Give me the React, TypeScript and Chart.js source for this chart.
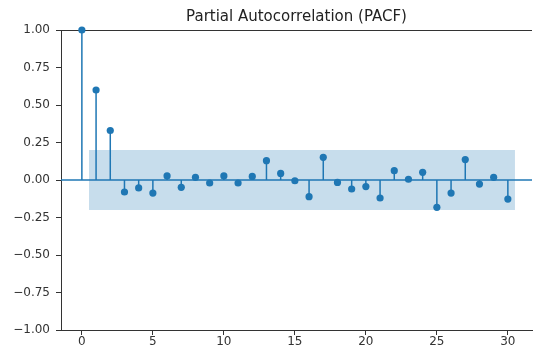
import React, { useEffect, useRef } from "react";
import { Chart, registerables } from "chart.js";

Chart.register(...registerables);

const lags = [0, 1, 2, 3, 4, 5, 6, 7, 8, 9, 10, 11, 12, 13, 14, 15, 16, 17, 18, 19, 20, 21, 22, 23, 24, 25, 26, 27, 28, 29, 30];
const pacfValues = [
  1.0, 0.6, 0.33, -0.08, -0.053, -0.087, 0.027, -0.049, 0.018, -0.02, 0.027,
  -0.02, 0.024, 0.129, 0.044, -0.005, -0.111, 0.151, -0.016, -0.06, -0.044,
  -0.12, 0.062, 0.005, 0.051, -0.182, -0.087, 0.136, -0.027, 0.018, -0.127,
];
const bandLags = [0.5, 30.5];
const bandUpper = [0.2, 0.2];
const bandLower = [-0.2, -0.2];
const xTicks = [0, 5, 10, 15, 20, 25, 30];
const yTicks = [-1, -0.75, -0.5, -0.25, 0, 0.25, 0.5, 0.75, 1];
const xRange = [-1.47, 31.7];
const yRange = [-1, 1];
const titleText = "Partial Autocorrelation (PACF)";

const BLUE = "#1f77b4";
const AXIS = "#333333";
const FONT = "DejaVu Sans";

const fmtY = (v: number) => {
  const s = Math.abs(v).toFixed(2);
  return v < 0 ? "\u2212" + s : s;
};

const spinePlugin = {
  id: "topSpine",
  beforeDatasetsDraw(chart: any) {
    const { ctx, chartArea } = chart;
    ctx.save();
    ctx.strokeStyle = AXIS;
    ctx.lineWidth = 1;
    ctx.beginPath();
    ctx.moveTo(chartArea.left, chartArea.top + 0.5);
    ctx.lineTo(chartArea.right, chartArea.top + 0.5);
    ctx.stroke();
    ctx.restore();
  },
};

export default function App() {
  const ref = useRef<HTMLCanvasElement>(null);

  useEffect(() => {
    if (!ref.current) return;
    const stemData: any[] = [];
    lags.forEach((l, i) => {
      stemData.push({ x: l, y: 0 });
      stemData.push({ x: l, y: pacfValues[i] });
      stemData.push({ x: l, y: null });
    });
    const chart = new Chart(ref.current, {
      type: "scatter",
      data: {
        datasets: [
          {
            type: "scatter",
            data: lags.map((l, i) => ({ x: l, y: pacfValues[i] })),
            pointRadius: 3.6,
            pointBackgroundColor: BLUE,
            pointBorderWidth: 0,
            clip: false,
          } as any,
          {
            type: "line",
            data: stemData,
            borderColor: BLUE,
            borderWidth: 1.5,
            pointRadius: 0,
            spanGaps: false,
            fill: false,
          } as any,
          {
            type: "line",
            data: [
              { x: xRange[0], y: 0 },
              { x: xRange[1], y: 0 },
            ],
            borderColor: BLUE,
            borderWidth: 1.5,
            pointRadius: 0,
            fill: false,
          } as any,
          {
            type: "line",
            data: bandLags.map((x, i) => ({ x, y: bandUpper[i] })),
            borderWidth: 0,
            borderColor: "rgba(0,0,0,0)",
            backgroundColor: "rgba(31,119,180,0.25)",
            pointRadius: 0,
            fill: "+1",
          } as any,
          {
            type: "line",
            data: bandLags.map((x, i) => ({ x, y: bandLower[i] })),
            borderWidth: 0,
            borderColor: "rgba(0,0,0,0)",
            pointRadius: 0,
            fill: false,
          } as any,
        ],
      },
      options: {
        animation: false,
        responsive: false,
        events: [],
        layout: { padding: 0 },
        plugins: {
          legend: { display: false },
          tooltip: { enabled: false },
          title: {
            display: true,
            text: titleText,
            fullSize: false,
            color: "#222",
            font: { family: FONT, size: 15, weight: "normal" },
            padding: { top: 8, bottom: 4 },
          },
        },
        scales: {
          x: {
            type: "linear",
            min: xRange[0],
            max: xRange[1],
            offset: false,
            afterBuildTicks: (s: any) => {
              s.ticks = xTicks.map((v) => ({ value: v }));
            },
            afterFit: (s: any) => {
              s.height = 21;
            },
            grid: {
              drawOnChartArea: false,
              drawTicks: true,
              tickLength: 5,
              tickColor: AXIS,
              offset: false,
            },
            border: { display: true, color: AXIS, width: 1 },
            ticks: {
              color: AXIS,
              font: { family: FONT, size: 12 },
              padding: 0,
              maxRotation: 0,
              autoSkip: false,
              callback: (v: any) => String(v),
            },
          },
          y: {
            type: "linear",
            min: yRange[0],
            max: yRange[1],
            afterBuildTicks: (s: any) => {
              s.ticks = yTicks.map((v) => ({ value: v }));
            },
            afterFit: (s: any) => {
              s.width = 61;
            },
            grid: {
              drawOnChartArea: false,
              drawTicks: true,
              tickLength: 5,
              tickColor: AXIS,
            },
            border: { display: true, color: AXIS, width: 1 },
            ticks: {
              color: AXIS,
              font: { family: FONT, size: 12 },
              padding: 6,
              autoSkip: false,
              callback: (v: any) => fmtY(Number(v)),
            },
          },
        },
      } as any,
      plugins: [spinePlugin],
    });
    return () => chart.destroy();
  }, []);

  return (
    <div style={{ position: "fixed", left: 0, top: 0, width: 536, height: 351, overflow: "hidden", background: "#fff" }}>
      <canvas ref={ref} width={536} height={351} style={{ display: "block" }} />
    </div>
  );
}
